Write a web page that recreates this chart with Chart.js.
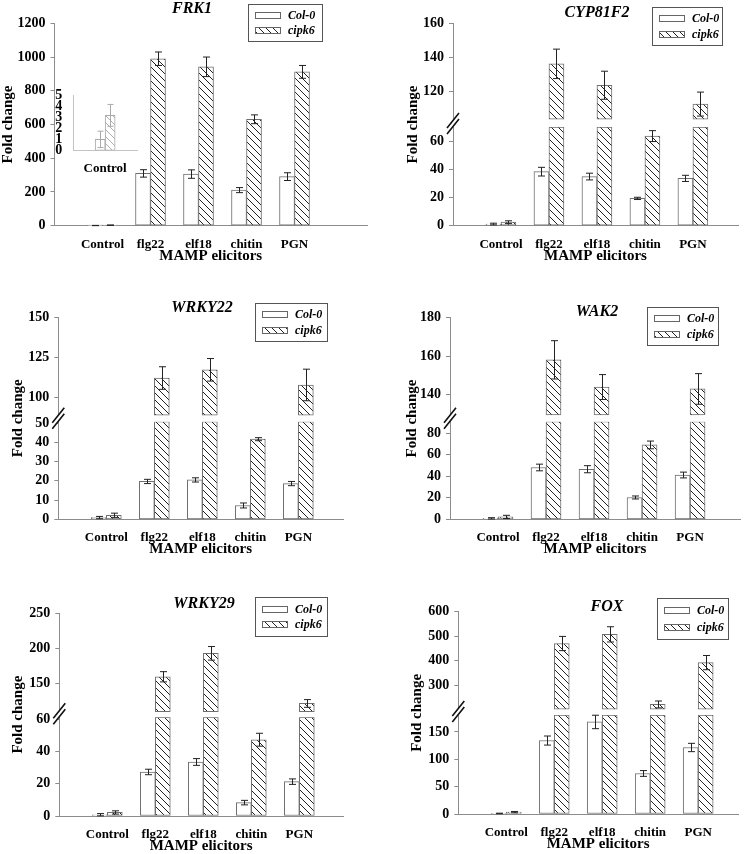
<!DOCTYPE html>
<html>
<head>
<meta charset="utf-8">
<script src="https://cdn.jsdelivr.net/npm/chart.js@4.4.0/dist/chart.umd.min.js"></script>
<style>
  body { margin: 0; background: #fff; }
  #page { position: relative; width: 750px; height: 854px; overflow: hidden; background: #fff; }
  canvas { position: absolute; }
</style>
</head>
<body>
<div id="page">
  <canvas id="frk1" width="375" height="270" style="left:0;top:0"></canvas>
  <canvas id="cyp" width="375" height="270" style="left:375px;top:0"></canvas>
  <canvas id="wrky22" width="375" height="280" style="left:0;top:280px"></canvas>
  <canvas id="wak2" width="375" height="280" style="left:375px;top:280px"></canvas>
  <canvas id="wrky29" width="375" height="294" style="left:0;top:560px"></canvas>
  <canvas id="fox" width="375" height="294" style="left:375px;top:560px"></canvas>
  <canvas id="inset" width="110" height="95" style="left:40px;top:85px"></canvas>
</div>
<script>
var categories = ['Control', 'flg22', 'elf18', 'chitin', 'PGN'];
var seriesNames = ['Col-0', 'cipk6'];
var xAxisTitle = 'MAMP elicitors';
var yAxisTitle = 'Fold change';

// FRK1
var frk1Col = [1.0, 310, 306, 211, 291];
var frk1ColErr = [0.7, 22, 25, 15, 23];
var frk1Cip = [3.2, 990, 942, 631, 912];
var frk1CipErr = [1.0, 40, 58, 26, 38];
var frk1Ticks = [0, 200, 400, 600, 800, 1000, 1200];

// FRK1 inset (Control only)
var insetCol = [1.0];
var insetColErr = [0.75];
var insetCip = [3.2];
var insetCipErr = [1.0];
var insetTicks = [0, 1, 2, 3, 4, 5];

// CYP81F2
var cypCol = [1.2, 38.6, 35.1, 19.5, 33.8];
var cypColErr = [0.6, 3.1, 2.4, 0.8, 2.2];
var cypCip = [2.5, 136.3, 123.8, 64.0, 112.8];
var cypCipErr = [1.0, 8.6, 8.2, 3.9, 7.0];
var cypLowTicks = [0, 20, 40, 60];
var cypHighTicks = [120, 140, 160];

// WRKY22
var wrky22Col = [0.9, 19.7, 20.5, 7.2, 18.6];
var wrky22ColErr = [0.6, 1.1, 1.1, 1.3, 1.1];
var wrky22Cip = [2.1, 112.3, 117.4, 41.7, 108.0];
var wrky22CipErr = [1.1, 7.0, 7.0, 0.8, 9.8];
var wrky22LowTicks = [0, 10, 20, 30, 40, 50];
var wrky22HighTicks = [100, 125, 150];

// WAK2
var wak2Col = [0.9, 48.2, 46.6, 20.3, 41.2];
var wak2ColErr = [0.6, 3.1, 3.3, 1.4, 2.7];
var wak2Cip = [2.2, 158.0, 143.8, 69.2, 142.8];
var wak2CipErr = [1.5, 10.0, 6.5, 3.6, 8.0];
var wak2LowTicks = [0, 20, 40, 60, 80];
var wak2HighTicks = [140, 160, 180];

// WRKY29
var wrky29Col = [0.8, 27.3, 33.5, 8.3, 21.3];
var wrky29ColErr = [0.7, 1.7, 2.1, 1.4, 1.7];
var wrky29Cip = [2.2, 159.3, 192.8, 47.3, 121.2];
var wrky29CipErr = [1.0, 7.3, 9.7, 4.0, 5.5];
var wrky29LowTicks = [0, 20, 40, 60];
var wrky29HighTicks = [150, 200, 250];

// FOX
var foxCol = [1.0, 134.3, 168.3, 74.1, 121.6];
var foxColErr = [0.5, 8.3, 12.3, 5.3, 7.6];
var foxCip = [3.4, 470.3, 507.6, 222.1, 392.5];
var foxCipErr = [1.2, 29, 31, 14, 29];
var foxLowTicks = [0, 50, 100, 150];
var foxHighTicks = [300, 400, 500, 600];

var serif = '"Liberation Serif", "Times New Roman", serif';
var axisColor = '#8c8c8c';
Chart.defaults.font.family = serif;
Chart.defaults.animation = false;

function hatch(color) {
  var c = document.createElement('canvas');
  c.width = 7; c.height = 7;
  var g = c.getContext('2d');
  g.fillStyle = '#fff';
  g.fillRect(0, 0, 7, 7);
  g.strokeStyle = color;
  g.lineWidth = 1;
  g.beginPath();
  g.moveTo(0, 0); g.lineTo(7, 7);
  g.moveTo(-1, 6); g.lineTo(1, 8);
  g.moveTo(6, -1); g.lineTo(8, 1);
  g.stroke();
  return g.createPattern(c, 'repeat');
}
var darkHatch = hatch('#222');
var lightHatch = hatch('#b0b0b0');

var errorBars = {
  id: 'errorBars',
  afterDatasetsDraw: function (chart, args, opts) {
    var ctx = chart.ctx;
    chart.data.datasets.forEach(function (ds, i) {
      if (!ds.errs) return;
      var meta = chart.getDatasetMeta(i);
      var ys = chart.scales[meta.yAxisID];
      ctx.save();
      ctx.strokeStyle = opts.color || '#222';
      ctx.lineWidth = 1;
      meta.data.forEach(function (bar, j) {
        var v = ds.mids[j], e = ds.errs[j];
        if (v == null || e == null) return;
        var x = Math.round(bar.x) + 0.5;
        var y1 = ys.getPixelForValue(v + e), y2 = ys.getPixelForValue(v - e);
        var cap = opts.cap || 3.5;
        ctx.beginPath();
        ctx.moveTo(x, y1); ctx.lineTo(x, y2);
        ctx.moveTo(x - cap, y1); ctx.lineTo(x + cap, y1);
        ctx.moveTo(x - cap, y2); ctx.lineTo(x + cap, y2);
        ctx.stroke();
      });
      ctx.restore();
    });
  }
};

var panelDecor = {
  id: 'panelDecor',
  afterDraw: function (chart, args, o) {
    if (!o || !o.title) return;
    var ctx = chart.ctx, a = chart.chartArea;
    ctx.save();
    ctx.fillStyle = '#000';
    ctx.textAlign = 'center';
    ctx.textBaseline = 'middle';
    ctx.font = 'italic bold 16px ' + serif;
    ctx.fillText(o.title, o.titleX, o.titleY);

    // y axis title centred on the whole (possibly broken) axis
    ctx.save();
    ctx.translate(a.left - o.yLabelOff, (a.top + a.bottom) / 2);
    ctx.rotate(-Math.PI / 2);
    ctx.font = 'bold 15px ' + serif;
    ctx.fillText(yAxisTitle, 0, 0);
    ctx.restore();

    // axis break marks
    if (chart.scales.y2) {
      var bx = a.left, by = chart.scales.y.top - 3;
      var l1 = [[bx - 6, by + 4], [bx + 6, by - 11]];
      var l2 = [[bx - 6, by + 10], [bx + 6, by - 5]];
      ctx.fillStyle = '#fff';
      ctx.beginPath();
      ctx.moveTo(l1[0][0], l1[0][1]); ctx.lineTo(l1[1][0], l1[1][1]);
      ctx.lineTo(l2[1][0], l2[1][1]); ctx.lineTo(l2[0][0], l2[0][1]);
      ctx.closePath();
      ctx.fill();
      ctx.strokeStyle = '#111';
      ctx.lineWidth = 1.6;
      ctx.beginPath();
      ctx.moveTo(l1[0][0], l1[0][1]); ctx.lineTo(l1[1][0], l1[1][1]);
      ctx.moveTo(l2[0][0], l2[0][1]); ctx.lineTo(l2[1][0], l2[1][1]);
      ctx.stroke();
    }

    // legend box
    var L = o.legend;
    ctx.fillStyle = '#fff';
    ctx.fillRect(L[0], L[1], L[2], L[3]);
    ctx.strokeStyle = '#555';
    ctx.lineWidth = 1;
    ctx.strokeRect(Math.round(L[0]) + 0.5, Math.round(L[1]) + 0.5, Math.round(L[2]), Math.round(L[3]));
    ctx.textAlign = 'left';
    ctx.font = 'italic bold 12px ' + serif;
    seriesNames.forEach(function (name, k) {
      var ry = Math.round(L[1] + L[3] * (k === 0 ? 0.3 : 0.7));
      ctx.fillStyle = k === 0 ? '#fff' : darkHatch;
      ctx.fillRect(L[0] + 7, ry - 3, 25, 6);
      ctx.strokeStyle = '#666';
      ctx.strokeRect(Math.round(L[0] + 7) + 0.5, ry - 2.5, 25, 6);
      ctx.fillStyle = '#000';
      ctx.fillText(name, L[0] + 40, ry + 1);
    });
    ctx.restore();
  }
};

function yScale(ticks, min, max, width, extra) {
  var s = {
    type: 'linear', position: 'left', stacked: false, bounds: 'data',
    min: min, max: max,
    grid: { display: true, drawOnChartArea: false, drawTicks: true, tickLength: 4, color: axisColor },
    border: { display: true, color: axisColor, width: 1 },
    ticks: {
      autoSkip: false, padding: 5, color: '#000',
      font: { family: serif, weight: 'bold', size: 14 },
      callback: function (v) { return String(v); }
    },
    afterBuildTicks: function (sc) { sc.ticks = ticks.map(function (v) { return { value: v }; }); },
    afterFit: function (sc) { sc.width = width; }
  };
  if (extra) Object.assign(s, extra);
  return s;
}

function makePanel(p) {
  var brk = p.lowMax != null;
  var datasets = [{
    label: seriesNames[0], stack: 'col', yAxisID: 'y',
    data: p.col.map(function (v, i) { return { x: i + 1, y: v }; }),
    backgroundColor: '#fff', mids: p.col, errs: p.colErr
  }, {
    label: seriesNames[1], stack: 'cip', yAxisID: 'y',
    data: p.cip.map(function (v, i) { return { x: i + 1, y: brk ? Math.min(v, p.lowMax) : v }; }),
    backgroundColor: darkHatch,
    mids: p.cip.map(function (v) { return brk && v > p.lowMax ? null : v; }),
    errs: p.cipErr
  }];
  if (brk) {
    datasets.push({
      label: seriesNames[1], stack: 'cip', yAxisID: 'y2',
      data: p.cip.map(function (v, i) { return { x: i + 1, y: v > p.lowMax ? [p.highBase, v] : null }; }),
      backgroundColor: darkHatch,
      mids: p.cip.map(function (v) { return v > p.lowMax ? v : null; }),
      errs: p.cipErr
    });
  }
  datasets.forEach(function (d) {
    d.borderColor = '#6f6f6f';
    d.borderWidth = 1;
    d.borderSkipped = false;
    d.barThickness = 15;
  });

  var scales = {
    x: {
      type: 'linear', min: 0, max: p.xMax, offset: false,
      grid: { display: false, drawTicks: false },
      border: { display: true, color: axisColor, width: 1 },
      ticks: {
        autoSkip: false, maxRotation: 0, padding: 11, color: '#000',
        font: { family: serif, weight: 'bold', size: 13 },
        callback: function (v) { return categories[v - 1] || ''; }
      },
      afterBuildTicks: function (sc) { sc.ticks = categories.map(function (c, i) { return { value: i + 1 }; }); },
      title: {
        display: true, text: xAxisTitle, color: '#000',
        font: { family: serif, weight: 'bold', size: 15, lineHeight: 1 },
        padding: { top: 0, bottom: 0.5 }
      },
      afterFit: function (sc) { sc.height = 38; }
    }
  };
  if (brk) {
    scales.y = yScale(p.lowTicks, 0, p.lowMax, p.axisLeft, { stack: 'fold', stackWeight: p.weights[0] });
    scales.y2 = yScale(p.highTicks, p.highMin, p.highMax, p.axisLeft, { stack: 'fold', stackWeight: p.weights[1] });
  } else {
    scales.y = yScale(p.ticks, 0, p.max, p.axisLeft);
  }

  return new Chart(document.getElementById(p.id), {
    type: 'bar',
    data: { datasets: datasets },
    options: {
      responsive: false, maintainAspectRatio: false, devicePixelRatio: 1,
      events: [],
      layout: { padding: { left: 0, top: p.top, right: p.right, bottom: p.bottom } },
      scales: scales,
      plugins: {
        legend: { display: false },
        title: { display: false },
        tooltip: { enabled: false },
        errorBars: { color: '#222', cap: 3.5 },
        panelDecor: { title: p.title, titleX: p.titleX, titleY: p.titleY, yLabelOff: p.yLabelOff, legend: p.legend }
      }
    },
    plugins: [errorBars, panelDecor]
  });
}

makePanel({ id: 'frk1', title: 'FRK1', titleX: 192, titleY: 9, yLabelOff: 46.5,
  legend: [248, 4, 74, 37], col: frk1Col, colErr: frk1ColErr, cip: frk1Cip, cipErr: frk1CipErr,
  ticks: frk1Ticks, max: 1200, axisLeft: 54.5, top: 23.3, right: 8, bottom: 6.3, xMax: 6.51 });

makePanel({ id: 'cyp', title: 'CYP81F2', titleX: 222, titleY: 12.5, yLabelOff: 40,
  legend: [277, 7, 70, 38], col: cypCol, colErr: cypColErr, cip: cypCip, cipErr: cypCipErr,
  lowTicks: cypLowTicks, highTicks: cypHighTicks, lowMax: 70.5, highMin: 99.4, highBase: 104, highMax: 160,
  weights: [98.7, 103.7], axisLeft: 78, top: 23.3, right: 12, bottom: 6.3, xMax: 5.94 });

makePanel({ id: 'wrky22', title: 'WRKY22', titleX: 202, titleY: 28, yLabelOff: 40.3,
  legend: [255, 23, 72, 38], col: wrky22Col, colErr: wrky22ColErr, cip: wrky22Cip, cipErr: wrky22CipErr,
  lowTicks: wrky22LowTicks, highTicks: wrky22HighTicks, lowMax: 50.8, highMin: 85.2, highBase: 89.3, highMax: 150,
  weights: [97.6, 104.4], axisLeft: 58.3, top: 37.3, right: 32, bottom: 2.7, xMax: 5.93 });

makePanel({ id: 'wak2', title: 'WAK2', titleX: 222, titleY: 31.5, yLabelOff: 38,
  legend: [272, 27, 71, 38], col: wak2Col, colErr: wak2ColErr, cip: wak2Cip, cipErr: wak2CipErr,
  lowTicks: wak2LowTicks, highTicks: wak2HighTicks, lowMax: 90.8, highMin: 125.7, highBase: 129.2, highMax: 180,
  weights: [97.6, 104], axisLeft: 75, top: 37.7, right: 10, bottom: 2.7, xMax: 6.04 });

makePanel({ id: 'wrky29', title: 'WRKY29', titleX: 204, titleY: 43.5, yLabelOff: 41.3,
  legend: [255, 37, 72, 39], col: wrky29Col, colErr: wrky29ColErr, cip: wrky29Cip, cipErr: wrky29CipErr,
  lowTicks: wrky29LowTicks, highTicks: wrky29HighTicks, lowMax: 61.2, highMin: 101.4, highBase: 109.4, highMax: 250,
  weights: [98.7, 104], axisLeft: 59.3, top: 53.3, right: 32, bottom: 0, xMax: 5.91 });

makePanel({ id: 'fox', title: 'FOX', titleX: 232, titleY: 46.5, yLabelOff: 41.3,
  legend: [282, 38, 71, 41], col: foxCol, colErr: foxColErr, cip: foxCip, cipErr: foxCipErr,
  lowTicks: foxLowTicks, highTicks: foxHighTicks, lowMax: 181, highMin: 179, highBase: 203, highMax: 600,
  weights: [99, 103.3], axisLeft: 83.3, top: 51.7, right: 12, bottom: 2, xMax: 5.83 });

// small inset with the Control values of FRK1
var insetAxis = '#c4c4c4';
new Chart(document.getElementById('inset'), {
  type: 'bar',
  data: {
    datasets: [{
      label: seriesNames[0], stack: 'col',
      data: insetCol.map(function (v, i) { return { x: i + 1, y: v }; }),
      backgroundColor: '#fff', mids: insetCol, errs: insetColErr
    }, {
      label: seriesNames[1], stack: 'cip',
      data: insetCip.map(function (v, i) { return { x: i + 1, y: v }; }),
      backgroundColor: lightHatch, mids: insetCip, errs: insetCipErr
    }].map(function (d) {
      d.borderColor = '#aaaaaa'; d.borderWidth = 1; d.borderSkipped = false; d.barThickness = 10;
      return d;
    })
  },
  options: {
    responsive: false, maintainAspectRatio: false, devicePixelRatio: 1, events: [],
    layout: { padding: { left: 0, top: 10.7, right: 13, bottom: 0 } },
    scales: {
      x: {
        type: 'linear', min: 0, max: 2, offset: false,
        grid: { display: false, drawTicks: false },
        border: { display: true, color: insetAxis },
        ticks: {
          autoSkip: false, maxRotation: 0, padding: 11, color: '#000',
          font: { family: serif, weight: 'bold', size: 13 },
          callback: function (v) { return v === 1 ? categories[0] : ''; }
        },
        afterBuildTicks: function (sc) { sc.ticks = [{ value: 1 }]; },
        afterFit: function (sc) { sc.height = 29.7; }
      },
      y: {
        type: 'linear', min: 0, max: 5, bounds: 'data',
        grid: { display: false },
        border: { display: true, color: insetAxis },
        ticks: { autoSkip: false, padding: 3, color: '#000', font: { family: serif, weight: 'bold', size: 14, lineHeight: 0.8 } },
        afterBuildTicks: function (sc) { sc.ticks = insetTicks.map(function (v) { return { value: v }; }); },
        afterFit: function (sc) { sc.width = 33.3; }
      }
    },
    plugins: {
      legend: { display: false }, title: { display: false }, tooltip: { enabled: false },
      errorBars: { color: '#aaaaaa', cap: 3 }
    }
  },
  plugins: [errorBars]
});
</script>
</body>
</html>
